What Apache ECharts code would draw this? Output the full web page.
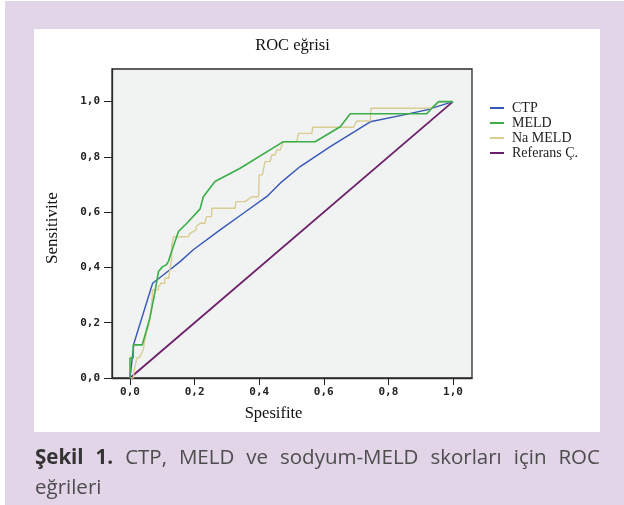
<!DOCTYPE html>
<html>
<head>
<meta charset="utf-8">
<script src="https://cdn.jsdelivr.net/npm/echarts@6/dist/echarts.min.js"></script>
<style>
  body { margin: 0; background: #fff; }
  #wrap { position: relative; width: 624px; height: 505px; overflow: hidden; }
  .lav { position: absolute; left: 5px; top: 1px; width: 619px; height: 504px; background: #e1d5e7; }
  .panel { position: absolute; left: 34px; top: 29px; width: 566px; height: 403px; background: #fff; }
  #main { position: absolute; left: 0; top: 0; width: 624px; height: 505px; }
  .cap { position: absolute; left: 35px; width: 565px; font-family: 'Open Sans', sans-serif; font-size: 20.5px; color: #4d4d4d; line-height: 30px; }
  #cap1 { top: 441px; display: flex; justify-content: space-between; }
  #cap2 { top: 471px; }
  .cap b { color: #333; }
</style>
</head>
<body>
<div id="wrap">
  <div class="lav"></div>
  <div class="panel"></div>
  <div id="main"></div>
  <div class="cap" id="cap1"><b>Şekil</b><b>1.</b><span>CTP,</span><span>MELD</span><span>ve</span><span>sodyum-MELD</span><span>skorları</span><span>için</span><span>ROC</span></div>
  <div class="cap" id="cap2">eğrileri</div>
</div>
<script type="text/javascript">
// ROC noktalari [1-spesifite, sensitivite]
var ctpPoints = [[0,0],[0.006,0],[0.012,0.125],[0.07,0.343],[0.10,0.37],[0.155,0.421],[0.196,0.464],
  [0.279,0.536],[0.351,0.596],[0.424,0.657],[0.465,0.705],[0.527,0.765],[0.62,0.837],[0.744,0.927],
  [0.84,0.95],[0.919,0.970],[1,1]];
var meldPoints = [[0,0],[0,0.072],[0.010,0.072],[0.010,0.120],[0.038,0.120],[0.050,0.169],[0.062,0.22],
  [0.077,0.31],[0.088,0.385],[0.101,0.403],[0.113,0.41],[0.119,0.422],[0.134,0.476],[0.150,0.530],
  [0.176,0.560],[0.217,0.612],[0.227,0.656],[0.263,0.711],[0.341,0.759],[0.475,0.855],[0.573,0.855],
  [0.651,0.909],[0.682,0.956],[0.919,0.956],[0.94,0.983],[0.956,1.0],[1,1]];
var naMeldPoints = [[0,0],[0.010,0],[0.013,0.03],[0.016,0.045],[0.021,0.072],[0.030,0.075],[0.036,0.09],
  [0.041,0.102],[0.046,0.14],[0.052,0.17],[0.058,0.19],[0.062,0.222],[0.067,0.265],[0.070,0.319],
  [0.088,0.319],[0.088,0.33],[0.096,0.343],[0.108,0.343],[0.108,0.361],[0.120,0.361],[0.124,0.40],
  [0.129,0.43],[0.129,0.476],[0.134,0.51],[0.181,0.512],[0.186,0.524],[0.196,0.530],[0.205,0.536],
  [0.205,0.548],[0.217,0.56],[0.232,0.56],[0.237,0.584],[0.253,0.584],[0.253,0.614],[0.325,0.614],
  [0.328,0.638],[0.356,0.638],[0.377,0.656],[0.398,0.656],[0.400,0.735],[0.41,0.735],[0.418,0.783],
  [0.434,0.783],[0.439,0.807],[0.449,0.807],[0.454,0.825],[0.465,0.825],[0.47,0.84],[0.475,0.855],
  [0.516,0.855],[0.522,0.885],[0.563,0.885],[0.566,0.907],[0.692,0.907],[0.702,0.930],[0.744,0.930],
  [0.746,0.976],[0.935,0.976],[0.956,1.0],[1,1]];
var refPoints = [[0,0],[1,1]];
var seriesNames = ['CTP', 'MELD', 'Na MELD', 'Referans Ç.'];
var tickValues = [0, 0.2, 0.4, 0.6, 0.8, 1.0];

var serif = "'Liberation Serif', 'Times New Roman', serif";
var mono = "'DejaVu Sans Mono', monospace";

function fmt(v) { return v.toFixed(1).replace('.', ','); }

var myChart = echarts.init(document.getElementById('main'));
var option = {
    animation: false,
    backgroundColor: 'transparent',
    grid: {
        left: 112, top: 69, width: 360, height: 309,
        show: true, backgroundColor: '#f1f2f2', borderColor: '#2b2b2b', borderWidth: 1.3
    },
    legend: {
        orient: 'vertical', left: 490, top: 101, padding: 0,
        itemWidth: 14, itemHeight: 2, itemGap: 1, icon: 'rect',
        data: seriesNames,
        textStyle: { fontFamily: serif, fontSize: 14, color: '#222', padding: [0, 0, 0, 3] }
    },
    graphic: [
        { type: 'text', x: 292.5, y: 46, style: { text: 'ROC eğrisi', align: 'center', verticalAlign: 'middle', font: '16.5px ' + serif, fill: '#111' } },
        { type: 'text', x: 273.5, y: 414, style: { text: 'Spesifite', align: 'center', verticalAlign: 'middle', font: '16.5px ' + serif, fill: '#111' } },
        { type: 'text', x: 53, y: 228, rotation: Math.PI / 2, style: { text: 'Sensitivite', align: 'center', verticalAlign: 'middle', font: '17px ' + serif, fill: '#111' } }
    ],
    xAxis: {
        type: 'value', min: -0.0558, max: 1.059,
        axisLine: { show: true, onZero: false, lineStyle: { color: '#2b2b2b', width: 1.3 } },
        axisTick: { show: true, length: 7, customValues: tickValues, lineStyle: { color: '#222' } },
        axisLabel: { customValues: tickValues, formatter: fmt, margin: 9, fontFamily: mono, fontSize: 11, fontWeight: 'bold', color: '#222' },
        splitLine: { show: false }
    },
    yAxis: {
        type: 'value', min: 0, max: 1.118,
        axisLine: { show: true, onZero: false, lineStyle: { color: '#2b2b2b', width: 1.3 } },
        axisTick: { show: true, length: 8, customValues: tickValues, lineStyle: { color: '#222' } },
        axisLabel: { customValues: tickValues, formatter: fmt, margin: 12, fontFamily: mono, fontSize: 11, fontWeight: 'bold', color: '#222' },
        splitLine: { show: false }
    },
    series: [
        { name: 'Referans Ç.', type: 'line', data: refPoints, symbol: 'none', z: 1,
          lineStyle: { color: '#6c1f6a', width: 1.8 }, itemStyle: { color: '#6c1f6a' } },
        { name: 'CTP', type: 'line', data: ctpPoints, symbol: 'none', z: 2,
          lineStyle: { color: '#3557b7', width: 1.4 }, itemStyle: { color: '#3557b7' } },
        { name: 'Na MELD', type: 'line', data: naMeldPoints, symbol: 'none', z: 3,
          lineStyle: { color: '#d9cd92', width: 1.4 }, itemStyle: { color: '#d9cd92' } },
        { name: 'MELD', type: 'line', data: meldPoints, symbol: 'none', z: 4,
          lineStyle: { color: '#3aae48', width: 1.6 }, itemStyle: { color: '#3aae48' } }
    ]
};
myChart.setOption(option);
</script>
</body>
</html>
